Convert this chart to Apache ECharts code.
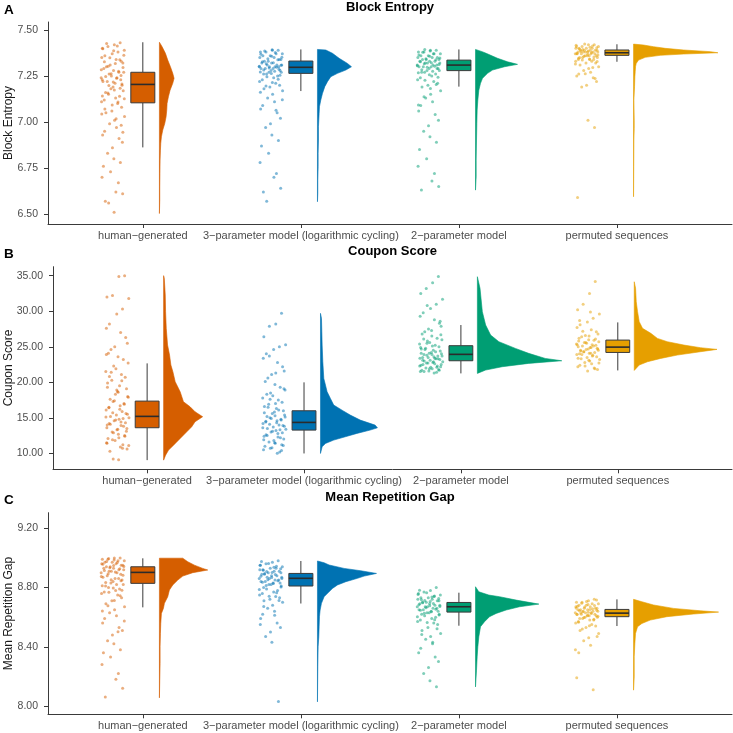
<!DOCTYPE html>
<html>
<head>
<meta charset="utf-8">
<script src="https://cdn.jsdelivr.net/npm/echarts@6/dist/echarts.min.js"></script>
<style>
  html, body { margin: 0; padding: 0; background: #fff; }
  #chart { width: 733px; height: 733px; }
</style>
</head>
<body>
<div id="chart"></div>
<script>
const groups = ['human−generated', '3−parameter model (logarithmic cycling)', '2−parameter model', 'permuted sequences'];
const colors = ['#D55E00', '#0072B2', '#009E73', '#E69F00'];
const FONT = 'Liberation Sans, Arial, Helvetica, sans-serif';

// tick labels
const entropyTicks = [6.5, 6.75, 7.0, 7.25, 7.5];
const couponTicks = [10, 15, 20, 25, 30, 35];
const gapTicks = [8.0, 8.4, 8.8, 9.2];

// fixed horizontal jitter (-1..1) shared by all point clouds
const jitter = [0.62,0.13,-0.41,-0.88,0.97,0.44,-0.05,-0.67,-0.93,0.28,0.71,0.85,-0.22,-0.54,-0.76,0.06,0.51,0.92,-0.31,-0.12,
  -0.98,0.35,0.67,-0.47,-0.83,0.19,0.78,0.02,-0.16,0.88,-0.61,-0.36,0.57,0.24,-0.72,-0.95,0.41,0.74,-0.08,-0.58,
  0.99,0.15,-0.27,0.31,-0.69,-0.86,0.53,0.81,-0.03,-0.44,0.09,0.64,-0.79,-0.19,-0.91,0.47,0.26,0.83,-0.63,-0.35,0.11,
  -0.52,0.38,-0.84,0.07,0.93,-0.25,0.59,-0.71,0.21,-0.39,0.86,-0.97,0.49,-0.14,0.69,-0.6,0.32,-0.89,0.04,0.77,-0.33];

// ---- Block Entropy ----
const entropyPoints = [
  [7.43,7.42,7.41,7.40,7.39,7.38,7.37,7.36,7.35,7.34,7.33,7.32,7.31,7.30,7.29,7.28,7.27,7.27,7.26,7.25,7.24,7.24,7.23,7.22,7.22,7.21,7.20,7.19,7.18,7.17,
   7.16,7.15,7.14,7.13,7.12,7.11,7.10,7.08,7.06,7.05,7.03,7.01,6.99,6.97,6.95,6.93,6.91,6.89,6.86,6.83,6.80,6.78,6.76,6.73,6.70,6.67,6.62,6.61,6.57,6.56,6.51,
   7.426,7.413,7.398,7.387,7.362,7.349,7.338,7.327,7.318,7.303,7.296,7.284,7.276,7.262,7.253,7.247,7.238,7.229,7.217,7.206,7.198,7.183,7.174,7.158,7.141,7.126,7.109,7.092,7.071,7.044,7.017,6.982,6.944],
  [7.39,7.39,7.38,7.38,7.37,7.37,7.36,7.36,7.35,7.35,7.34,7.34,7.33,7.33,7.32,7.32,7.31,7.31,7.31,7.30,7.30,7.30,7.30,7.29,7.29,7.29,7.28,7.28,7.27,7.27,
   7.26,7.26,7.25,7.24,7.23,7.22,7.21,7.20,7.19,7.18,7.17,7.15,7.13,7.11,7.09,7.07,7.05,7.02,6.99,6.97,6.93,6.90,6.87,6.83,6.78,6.72,6.70,6.64,6.62,6.57,
   7.392,7.386,7.377,7.368,7.357,7.352,7.343,7.338,7.327,7.322,7.316,7.308,7.303,7.297,7.293,7.286,7.282,7.276,7.271,7.263,7.254,7.246,7.232,7.214,7.196,7.162,7.121,7.064],
  [7.39,7.39,7.38,7.38,7.37,7.37,7.36,7.36,7.35,7.35,7.35,7.34,7.34,7.34,7.33,7.33,7.33,7.32,7.32,7.32,7.31,7.31,7.31,7.30,7.30,7.30,7.29,7.29,7.28,7.28,
   7.27,7.27,7.26,7.25,7.24,7.23,7.22,7.21,7.20,7.19,7.17,7.15,7.13,7.11,7.09,7.06,7.04,7.01,6.98,6.95,6.92,6.89,6.85,6.80,6.76,6.72,6.68,6.65,6.63,
   7.393,7.386,7.379,7.371,7.364,7.357,7.348,7.343,7.338,7.327,7.322,7.316,7.312,7.306,7.303,7.297,7.291,7.284,7.276,7.268,7.257,7.243,7.226,7.204,7.182,7.137,7.092],
  [7.42,7.42,7.41,7.41,7.41,7.40,7.40,7.40,7.40,7.39,7.39,7.39,7.39,7.39,7.38,7.38,7.38,7.38,7.38,7.38,7.37,7.37,7.37,7.37,7.37,7.36,7.36,7.36,7.36,7.35,
   7.35,7.35,7.34,7.34,7.34,7.33,7.33,7.32,7.32,7.31,7.30,7.29,7.28,7.27,7.26,7.25,7.24,7.22,7.20,7.19,7.01,6.97,6.59,
   7.423,7.417,7.412,7.406,7.403,7.396,7.393,7.386,7.383,7.377,7.372,7.368,7.364,7.357,7.353,7.346,7.342,7.337,7.328,7.315,7.296,7.262,7.236]
];
// [lower whisker, Q1, median, Q3, upper whisker]
const entropyBox = [
  [6.862, 7.104, 7.204, 7.270, 7.433],
  [7.168, 7.264, 7.297, 7.331, 7.394],
  [7.192, 7.279, 7.309, 7.336, 7.394],
  [7.327, 7.362, 7.376, 7.391, 7.422]
];
// [value, density]
const entropyDens = [
  [[7.433,0],[7.409,8],[7.373,18],[7.336,25],[7.300,33],[7.264,40],[7.237,44],[7.210,40],[7.173,32],[7.137,27],[7.101,23],[7.065,22],[7.028,20],[6.992,16],[6.956,10],[6.920,6],[6.884,4],[6.847,3],[6.793,2],[6.721,1.5],[6.648,1],[6.576,1],[6.503,0]],
  [[7.394,0],[7.391,25],[7.373,45],[7.346,65],[7.318,90],[7.300,102],[7.282,85],[7.264,60],[7.246,40],[7.219,30],[7.192,22],[7.155,15],[7.119,10],[7.083,6],[7.047,5],[7.010,4],[6.974,3],[6.902,3],[6.829,2],[6.757,2],[6.684,1],[6.612,1],[6.567,0]],
  [[7.394,0],[7.382,20],[7.373,32],[7.346,66],[7.327,96],[7.313,126],[7.300,87],[7.282,51],[7.264,36],[7.237,21],[7.210,15],[7.173,10],[7.119,7],[7.065,5],[6.992,4],[6.902,3],[6.793,2],[6.702,2],[6.630,0]],
  [[7.423,0],[7.418,30],[7.409,60],[7.400,95],[7.391,150],[7.382,230],[7.376,253],[7.369,150],[7.362,80],[7.351,35],[7.336,15],[7.318,8],[7.300,6],[7.273,5],[7.246,4],[7.192,3],[7.119,1],[7.010,2],[6.965,2],[6.902,1],[6.757,0.5],[6.594,0]]
];

// ---- Coupon Score ----
const couponPoints = [
  [35.0,34.9,32.2,32.0,31.8,30.3,29.6,28.2,27.6,27.0,26.3,25.5,25.0,24.6,24.1,23.6,23.2,22.7,22.3,21.9,21.5,21.1,20.7,20.3,19.9,19.5,19.1,18.7,18.3,18.0,
   17.6,17.3,17.0,16.7,16.4,16.1,15.9,15.6,15.4,15.2,15.0,14.8,14.6,14.4,14.2,14.0,13.8,13.5,13.3,13.0,12.7,12.4,12.1,11.8,11.5,11.2,10.9,10.6,10.3,9.2,9.1,
   21.4,20.2,19.3,18.6,17.9,17.4,16.9,16.5,16.2,15.7,15.5,15.1,14.9,14.7,14.3,14.1,13.9,13.6,13.4,13.1,12.9,12.5,12.2,11.9,11.4,11.1,10.7,18.9,20.8,23.9],
  [29.7,28.2,27.9,26.4,25.3,25.0,24.6,24.0,23.4,22.8,22.2,21.6,21.1,20.6,20.1,19.7,19.3,18.9,18.5,18.1,17.8,17.5,17.2,16.9,16.6,16.3,16.0,15.8,15.6,15.4,
   15.2,15.0,14.8,14.6,14.4,14.2,14.0,13.9,13.7,13.5,13.4,13.2,13.0,12.8,12.6,12.4,12.2,12.0,11.8,11.6,11.4,11.2,11.0,10.8,10.5,10.2,10.0,
   19.1,18.3,17.6,17.0,16.5,16.1,15.7,15.3,15.1,14.9,14.7,14.5,14.3,14.1,13.8,13.6,13.3,13.1,12.9,12.5,12.3,11.9,11.5,11.1,10.7,10.4,21.3,23.7],
  [34.9,34.0,33.2,32.5,31.7,31.0,30.4,29.8,29.3,28.8,28.3,27.9,27.5,27.1,26.8,26.5,26.2,26.0,25.8,25.6,25.4,25.2,25.0,24.8,24.7,24.5,24.4,24.2,24.1,24.0,
   23.9,23.8,23.7,23.6,23.5,23.4,23.3,23.2,23.1,23.0,22.9,22.8,22.7,22.6,22.5,22.4,22.3,22.2,22.1,22.0,21.9,21.8,21.7,21.6,21.5,21.4,21.3,
   26.7,26.1,25.5,25.1,24.6,24.3,24.1,23.9,23.7,23.5,23.3,23.1,22.9,22.7,22.5,22.3,22.1,21.9,21.7,21.5,23.4,24.9,27.3,28.6,30.8],
  [34.2,32.5,31.0,30.2,29.6,29.0,28.5,28.1,27.7,27.4,27.1,26.8,26.6,26.4,26.2,26.0,25.9,25.7,25.6,25.5,25.4,25.3,25.2,25.1,25.0,24.9,24.8,24.7,24.6,24.5,
   24.4,24.3,24.2,24.1,24.0,23.9,23.8,23.6,23.5,23.3,23.2,23.0,22.8,22.6,22.4,22.2,22.0,21.8,21.6,
   27.2,26.5,26.1,25.8,25.6,25.3,25.1,24.9,24.7,24.5,24.3,24.1,23.9,23.7,23.4,23.1,22.7,22.3,21.9,28.7,29.9]
];
const couponBox = [
  [9.04, 13.60, 15.20, 17.35, 22.66],
  [9.98, 13.27, 14.35, 15.99, 19.99],
  [21.25, 23.03, 23.93, 25.15, 28.06],
  [21.67, 24.20, 24.95, 25.94, 28.43]
];
const couponDens = [
  [[35.01,0],[34.63,2],[32.28,5],[29.94,6],[27.59,8],[25.24,12],[23.83,18],[22.43,22],[21.49,28],[20.08,35],[18.67,50],[17.26,60],[16.55,80],[15.85,95],[15.15,118],[14.44,95],[13.74,85],[13.03,70],[12.09,50],[11.15,30],[10.45,15],[9.74,6],[9.04,0]],
  [[29.70,0],[28.99,3],[27.11,4],[25.24,5],[22.89,7],[20.54,10],[19.61,15],[18.67,20],[17.73,30],[16.79,40],[16.08,65],[15.38,90],[14.68,120],[13.97,165],[13.59,172],[13.27,150],[12.80,110],[12.33,75],[11.86,40],[11.39,15],[10.92,5],[9.98,0]],
  [[34.86,0],[33.22,8],[29.94,15],[28.06,25],[26.65,40],[25.71,65],[24.77,115],[24.07,155],[23.36,205],[23.03,255],[22.66,155],[22.19,75],[21.72,25],[21.25,0]],
  [[34.15,0],[33.22,4],[31.34,6],[29.94,10],[28.53,15],[27.59,25],[26.89,50],[26.18,70],[25.71,100],[25.24,150],[24.87,200],[24.63,250],[24.30,200],[23.83,130],[23.36,80],[22.89,40],[22.43,15],[21.67,0]]
];

// ---- Mean Repetition Gap ----
const gapPoints = [
  [9.00,9.00,8.99,8.99,8.98,8.98,8.97,8.97,8.96,8.96,8.95,8.95,8.94,8.94,8.93,8.93,8.92,8.92,8.91,8.91,8.90,8.90,8.89,8.88,8.87,8.86,8.85,8.84,8.83,8.82,
   8.81,8.80,8.79,8.78,8.77,8.76,8.75,8.73,8.71,8.69,8.67,8.65,8.63,8.61,8.59,8.56,8.53,8.51,8.48,8.44,8.42,8.38,8.36,8.33,8.28,8.22,8.18,8.12,8.06,
   8.995,8.985,8.975,8.968,8.957,8.948,8.941,8.933,8.926,8.915,8.904,8.893,8.882,8.874,8.861,8.853,8.846,8.833,8.821,8.812,8.797,8.781,8.768,8.744,8.712,8.676,8.641,8.574,8.502],
  [8.98,8.97,8.96,8.95,8.94,8.93,8.93,8.92,8.92,8.91,8.91,8.90,8.90,8.89,8.89,8.88,8.88,8.87,8.87,8.86,8.86,8.85,8.85,8.84,8.84,8.83,8.83,8.82,8.82,8.81,
   8.80,8.79,8.78,8.77,8.76,8.75,8.74,8.73,8.72,8.71,8.70,8.68,8.66,8.64,8.62,8.59,8.56,8.53,8.50,8.47,8.43,8.03,
   8.975,8.962,8.951,8.944,8.937,8.926,8.917,8.908,8.902,8.895,8.887,8.876,8.868,8.861,8.853,8.845,8.836,8.827,8.814,8.803,8.786,8.764,8.741,8.713,8.672,8.613,8.551],
  [8.80,8.78,8.77,8.76,8.75,8.74,8.73,8.73,8.72,8.72,8.71,8.71,8.70,8.70,8.69,8.69,8.68,8.68,8.67,8.67,8.67,8.66,8.66,8.65,8.65,8.64,8.64,8.63,8.63,8.62,
   8.62,8.61,8.60,8.59,8.58,8.57,8.56,8.55,8.53,8.51,8.49,8.47,8.45,8.42,8.39,8.36,8.33,8.30,8.26,8.22,8.17,8.13,
   8.782,8.764,8.753,8.742,8.736,8.726,8.718,8.713,8.706,8.697,8.692,8.684,8.677,8.672,8.663,8.654,8.647,8.636,8.627,8.614,8.603,8.582,8.563,8.521,8.482,8.43],
  [8.72,8.71,8.70,8.70,8.69,8.69,8.68,8.68,8.67,8.67,8.66,8.66,8.66,8.65,8.65,8.65,8.64,8.64,8.64,8.63,8.63,8.63,8.62,8.62,8.62,8.61,8.61,8.61,8.60,8.60,
   8.59,8.59,8.58,8.58,8.57,8.56,8.55,8.54,8.53,8.51,8.49,8.46,8.44,8.41,8.36,8.19,8.11,
   8.716,8.705,8.694,8.686,8.679,8.673,8.668,8.661,8.656,8.651,8.647,8.643,8.637,8.633,8.628,8.624,8.617,8.613,8.606,8.597,8.585,8.566,8.542,8.52,8.47,8.38]
];
const gapBox = [
  [8.666, 8.828, 8.902, 8.940, 8.997],
  [8.692, 8.810, 8.862, 8.895, 8.979],
  [8.542, 8.634, 8.670, 8.699, 8.765],
  [8.540, 8.603, 8.627, 8.652, 8.720]
];
const gapDens = [
  [[8.998,0],[8.998,70],[8.974,85],[8.951,105],[8.929,130],[8.918,145],[8.900,100],[8.877,70],[8.850,55],[8.817,40],[8.783,30],[8.738,25],[8.693,15],[8.659,12],[8.625,6],[8.557,4],[8.490,3],[8.400,2],[8.287,2],[8.175,1],[8.055,0]],
  [[8.979,0],[8.967,20],[8.952,35],[8.929,80],[8.913,130],[8.895,177],[8.877,140],[8.862,120],[8.839,85],[8.817,60],[8.794,45],[8.772,35],[8.738,20],[8.693,12],[8.648,8],[8.603,6],[8.535,5],[8.468,4],[8.400,2],[8.265,1],[8.028,0]],
  [[8.805,0],[8.771,10],[8.749,40],[8.738,72],[8.715,122],[8.688,190],[8.670,132],[8.648,92],[8.625,62],[8.603,42],[8.569,27],[8.535,15],[8.468,10],[8.400,7],[8.332,5],[8.242,3],[8.129,0]],
  [[8.720,0],[8.704,25],[8.682,60],[8.659,120],[8.643,200],[8.634,255],[8.621,180],[8.603,100],[8.580,50],[8.557,25],[8.535,12],[8.490,6],[8.423,4],[8.332,2],[8.197,2],[8.107,0]]
];

// layout
const DS = 1 / 474;          // density -> x units
const PT_OFF = -0.19, PT_SPREAD = 0.075, BOX_HALF = 0.076, VIO_OFF = 0.105;
const LINE = '#3a3a3a';

const panels = [
  { title: 'Block Entropy', letter: 'A', name: 'Block Entropy', pts: entropyPoints, box: entropyBox, dens: entropyDens, ticks: entropyTicks,
    min: 6.446, max: 7.543, grid: { left: 48, top: 22, right: 1, height: 202 }, gap: 33 },
  { title: 'Coupon Score', letter: 'B', name: 'Coupon Score', pts: couponPoints, box: couponBox, dens: couponDens, ticks: couponTicks,
    min: 7.75, max: 36.27, grid: { left: 53, top: 266.7, right: 1, height: 202.6 }, gap: 38 },
  { title: 'Mean Repetition Gap', letter: 'C', name: 'Mean Repetition Gap', pts: gapPoints, box: gapBox, dens: gapDens, ticks: gapTicks,
    min: 7.944, max: 9.305, grid: { left: 48, top: 512.7, right: 1, height: 201.6 }, gap: 33 }
];

const grid = [], xAxis = [], yAxis = [], series = [], graphic = [];

panels.forEach((p, gi) => {
  grid.push(Object.assign({ containLabel: false, outerBoundsMode: 'none' }, p.grid));
  xAxis.push({
    type: 'value', gridIndex: gi, min: 0.4, max: 4.728,
    axisLine: { show: true, lineStyle: { color: LINE, width: 1 } },
    axisTick: { show: true, length: 4, customValues: [1, 2, 3, 4], lineStyle: { color: LINE } },
    axisLabel: { customValues: [1, 2, 3, 4], formatter: v => groups[Math.round(v) - 1], color: '#4d4d4d',
      fontSize: 11, fontFamily: FONT, margin: 6 },
    splitLine: { show: false }
  });
  yAxis.push({
    type: 'value', gridIndex: gi, min: p.min, max: p.max,
    name: p.name, nameLocation: 'middle', nameGap: p.gap, nameMoveOverlap: false,
    nameTextStyle: { color: '#1a1a1a', fontSize: 12, fontFamily: FONT },
    axisLine: { show: true, lineStyle: { color: LINE, width: 1 } },
    axisTick: { show: true, length: 4, customValues: p.ticks, lineStyle: { color: LINE } },
    axisLabel: { customValues: p.ticks, formatter: v => v.toFixed(2), color: '#4d4d4d',
      fontSize: 10.5, fontFamily: FONT, margin: 10 },
    splitLine: { show: false }
  });

  // rain: jittered points
  p.pts.forEach((vals, k) => {
    series.push({
      type: 'scatter', xAxisIndex: gi, yAxisIndex: gi, silent: true, symbolSize: 3,
      itemStyle: { color: colors[k], opacity: 0.5 },
      data: vals.map((v, j) => [k + 1 + PT_OFF + jitter[j % jitter.length] * PT_SPREAD, v])
    });
  });

  // boxplots
  series.push({
    type: 'custom', xAxisIndex: gi, yAxisIndex: gi, silent: true,
    data: p.box.map((b, k) => [k + 1, b[2]]),
    renderItem: function (params, api) {
      const k = params.dataIndex, c = api.value(0), b = p.box[k];
      const hi = api.coord([c, b[4]]), q3 = api.coord([c, b[3]]), q1 = api.coord([c, b[1]]), lo = api.coord([c, b[0]]);
      const tl = api.coord([c - BOX_HALF, b[3]]), br = api.coord([c + BOX_HALF, b[1]]);
      const ml = api.coord([c - BOX_HALF, b[2]]), mr = api.coord([c + BOX_HALF, b[2]]);
      return {
        type: 'group', children: [
          { type: 'line', shape: { x1: hi[0], y1: hi[1], x2: q3[0], y2: q3[1] }, style: { stroke: LINE, lineWidth: 1 } },
          { type: 'line', shape: { x1: q1[0], y1: q1[1], x2: lo[0], y2: lo[1] }, style: { stroke: LINE, lineWidth: 1 } },
          { type: 'rect', shape: { x: tl[0], y: tl[1], width: br[0] - tl[0], height: br[1] - tl[1] },
            style: { fill: colors[k], stroke: LINE, lineWidth: 1 } },
          { type: 'line', shape: { x1: ml[0], y1: ml[1], x2: mr[0], y2: mr[1] }, style: { stroke: '#2b2b2b', lineWidth: 1.6 } }
        ]
      };
    }
  });

  // clouds: half violins
  series.push({
    type: 'custom', xAxisIndex: gi, yAxisIndex: gi, silent: true,
    data: p.dens.map((d, k) => [k + 1, d[0][0]]),
    renderItem: function (params, api) {
      const k = params.dataIndex, c = api.value(0), prof = p.dens[k];
      const base = c + VIO_OFF;
      const pts = [api.coord([base, prof[0][0]])];
      prof.forEach(([v, d]) => pts.push(api.coord([base + d * DS, v])));
      pts.push(api.coord([base, prof[prof.length - 1][0]]));
      return { type: 'polygon', shape: { points: pts }, style: { fill: colors[k], stroke: colors[k], lineWidth: 0.6 } };
    }
  });

  const gTop = p.grid.top;
  const cx = p.grid.left + (733 - p.grid.left - 1) / 2;
  graphic.push({ type: 'text', x: cx, y: gTop - 15,
    style: { text: p.title, fontSize: 13, fontWeight: 'bold', fontFamily: FONT, fill: '#000', textAlign: 'center', textVerticalAlign: 'middle' } });
  graphic.push({ type: 'text', x: 4, y: gTop - 12,
    style: { text: p.letter, fontSize: 13.5, fontWeight: 'bold', fontFamily: FONT, fill: '#000', textAlign: 'left', textVerticalAlign: 'middle' } });
});

const chart = echarts.init(document.getElementById('chart'), null, { renderer: 'canvas' });
chart.setOption({
  backgroundColor: '#fff',
  animation: false,
  grid: grid,
  xAxis: xAxis,
  yAxis: yAxis,
  series: series,
  graphic: graphic
});
</script>
</body>
</html>
